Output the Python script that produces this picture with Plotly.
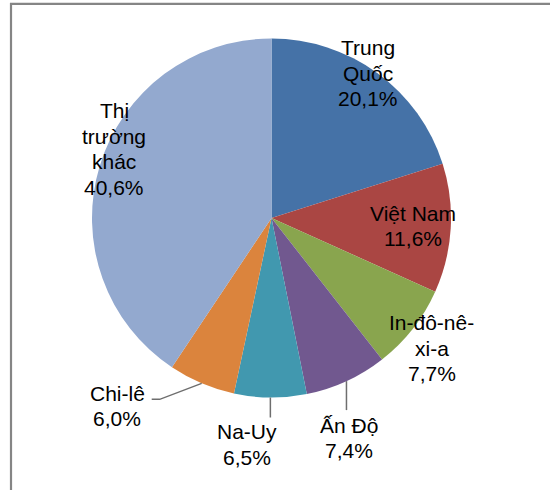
import math
import plotly.graph_objects as go

# Market shares (%)
markets = ["Trung Quốc", "Việt Nam", "In-đô-nê-xi-a", "Ấn Độ", "Na-Uy", "Chi-lê", "Thị trường khác"]
shares = [20.1, 11.6, 7.7, 7.4, 6.5, 6.0, 40.6]
# How each label is broken into lines
label_lines = [
    ["Trung", "Quốc"],
    ["Việt Nam"],
    ["In-đô-nê-", "xi-a"],
    ["Ấn Độ"],
    ["Na-Uy"],
    ["Chi-lê"],
    ["Thị", "trường", "khác"],
]
colors = ["#4572A7", "#AA4643", "#89A54E", "#71588F", "#4198AF", "#DB843D", "#93A9CF"]

W, H = 550, 490
CX, CY, R = 271.5, 218.0, 179.5

# Label placement: (radial factor, angle shift in degrees) relative to slice middle
label_place = [(0.97, -2.5), (0.79, 0.0), (1.15, 1.0), (1.30, 5.2), (1.27, 5.7), (1.355, 16.5), (0.956, 6.8)]
LINE_GAP = 25.5
FONT = dict(family="Liberation Sans, Arial, sans-serif", size=21, color="#000000")


def px(x):
    return x / W


def py(y):
    return 1 - y / H


def fmt(v):
    return f"{v:.1f}".replace(".", ",") + "%"


total = sum(shares)
mids = []
acc = 0.0
for v in shares:
    mids.append((acc + v / 2) / total * 360.0)
    acc += v


def polar(angle_deg, r):
    a = math.radians(angle_deg)
    return CX + r * math.sin(a), CY - r * math.cos(a)


fig = go.Figure(
    go.Pie(
        labels=markets,
        values=shares,
        sort=False,
        direction="clockwise",
        rotation=0,
        marker=dict(colors=colors, line=dict(width=0)),
        textinfo="none",
        hoverinfo="label+percent",
        showlegend=False,
        domain=dict(x=[px(CX - R), px(CX + R)], y=[py(CY + R), py(CY - R)]),
    )
)

annotations = []
for lines, v, mid, (rf, shift) in zip(label_lines, shares, mids, label_place):
    all_lines = lines + [fmt(v)]
    bx, by = polar(mid + shift, rf * R)
    n = len(all_lines)
    for i, t in enumerate(all_lines):
        ly = by + (i - (n - 1) / 2) * LINE_GAP
        annotations.append(
            dict(x=px(bx), y=py(ly), xref="paper", yref="paper", text=t,
                 showarrow=False, xanchor="center", yanchor="middle", font=FONT)
        )

shapes = []
line_style = dict(color="#6e6e6e", width=1.5)
# Leader lines for labels placed outside the pie
ex, ey = polar(mids[3], R)
shapes.append(dict(type="line", xref="paper", yref="paper",
                   x0=px(ex), y0=py(ey), x1=px(ex), y1=py(ey + 29), line=line_style))
ex, ey = polar(mids[4], R)
shapes.append(dict(type="line", xref="paper", yref="paper",
                   x0=px(ex), y0=py(ey), x1=px(ex), y1=py(ey + 20), line=line_style))
ex, ey = polar(mids[5], R)
shapes.append(dict(type="path", xref="paper", yref="paper",
                   path=f"M {px(ex)},{py(ey)} L {px(ex - 42)},{py(ey + 16)} L {px(ex - 50)},{py(ey + 16)}",
                   line=line_style))

# Chart frame (left and top edges)
shapes.append(dict(type="path", xref="paper", yref="paper",
                   path=f"M {px(11)},{py(H + 2)} L {px(11)},{py(3.8)} L {px(W + 2)},{py(3.8)}",
                   line=dict(color="#858585", width=2.2)))

fig.update_layout(
    width=W,
    height=H,
    margin=dict(l=0, r=0, t=0, b=0),
    paper_bgcolor="#ffffff",
    plot_bgcolor="#ffffff",
    annotations=annotations,
    shapes=shapes,
)

fig.write_html("out.html")
